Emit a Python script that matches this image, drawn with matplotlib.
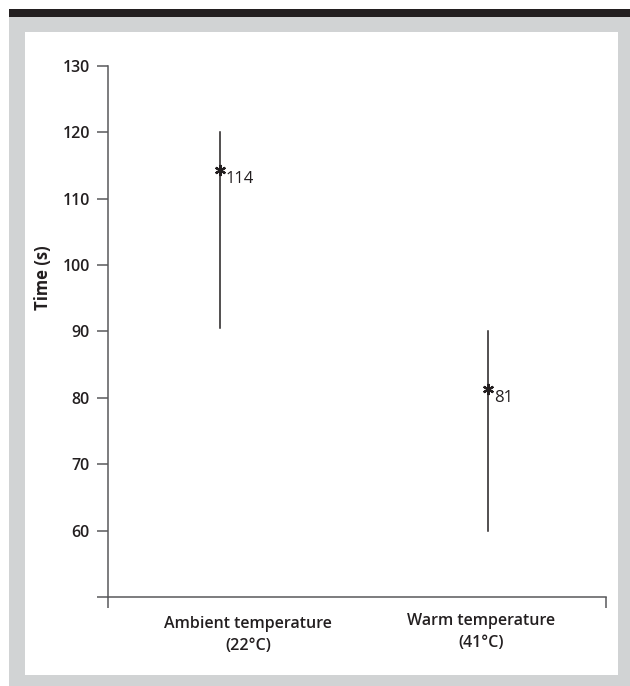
import matplotlib.pyplot as plt
from matplotlib.patches import Rectangle

# data
groups = ["Ambient temperature\n(22\u00b0C)", "Warm temperature\n(41\u00b0C)"]
low = [90.5, 60]
high = [120, 90]
mean = [114, 81]
yticks = [50, 60, 70, 80, 90, 100, 110, 120, 130]
ytick_labels = ["", "60", "70", "80", "90", "100", "110", "120", "130"]

plt.rcParams['font.family'] = ['Open Sans', 'DejaVu Sans']

W, H = 630, 686
fig = plt.figure(figsize=(W / 100, H / 100), dpi=100)

# frame: grey border, dark top bar, white panel
fig.patches.append(Rectangle((9 / W, 0), 1, 669 / H, transform=fig.transFigure,
                             facecolor="#d1d3d4", edgecolor="none", zorder=-3))
fig.patches.append(Rectangle((9 / W, 669 / H), 1, 8 / H, transform=fig.transFigure,
                             facecolor="#231f20", edgecolor="none", zorder=-3))
fig.patches.append(Rectangle((25 / W, 11 / H), 593 / W, 643 / H, transform=fig.transFigure,
                             facecolor="white", edgecolor="none", zorder=-2))

ax = fig.add_axes([108 / W, 89 / H, 498 / W, 531 / H])
ax.patch.set_visible(False)

xpos = [1, 3.4]
ax.set_xlim(0, 4.45)
ax.set_ylim(50, 130)

col = "#231f20"
for x, lo, hi, m in zip(xpos, low, high, mean):
    ax.plot([x, x], [lo, hi], color=col, lw=1.1)
    ax.plot(x, m + 0.4, marker=(6, 2, 0), ms=8, mew=1.6, color=col)
    ax.annotate(str(m), (x, m), xytext=(4, -5), textcoords="offset points",
                ha="left", va="center", fontsize=12, color=col)

for sp in ["top", "right"]:
    ax.spines[sp].set_visible(False)
for sp in ["left", "bottom"]:
    ax.spines[sp].set_color("#58595b")
    ax.spines[sp].set_linewidth(1.1)

ax.set_yticks(yticks)
ax.set_yticklabels(ytick_labels)
ax.tick_params(axis="y", direction="out", length=8, width=1.1, color="#58595b",
               pad=5, labelsize=11.5, labelcolor=col)
for t in ax.get_yticklabels():
    t.set_fontweight("semibold")

ax.set_xticks([0, 4.45])
ax.set_xticklabels(["", ""])
ax.tick_params(axis="x", direction="out", length=8, width=1.1, color="#58595b")

label_x = [1.25, 3.33]
label_y = [-0.035, -0.030]
for lx, ly, g in zip(label_x, label_y, groups):
    ax.text(lx, ly, g, transform=ax.get_xaxis_transform(), ha="center", va="top",
            fontsize=11.5, fontweight="semibold", color=col, linespacing=1.5)

fig.text(43 / W, (686 - 278) / H, "Time (s)", rotation=90, ha="center", va="center",
         fontsize=12, fontweight="bold", color=col)

fig.savefig("out.png", dpi=100)
